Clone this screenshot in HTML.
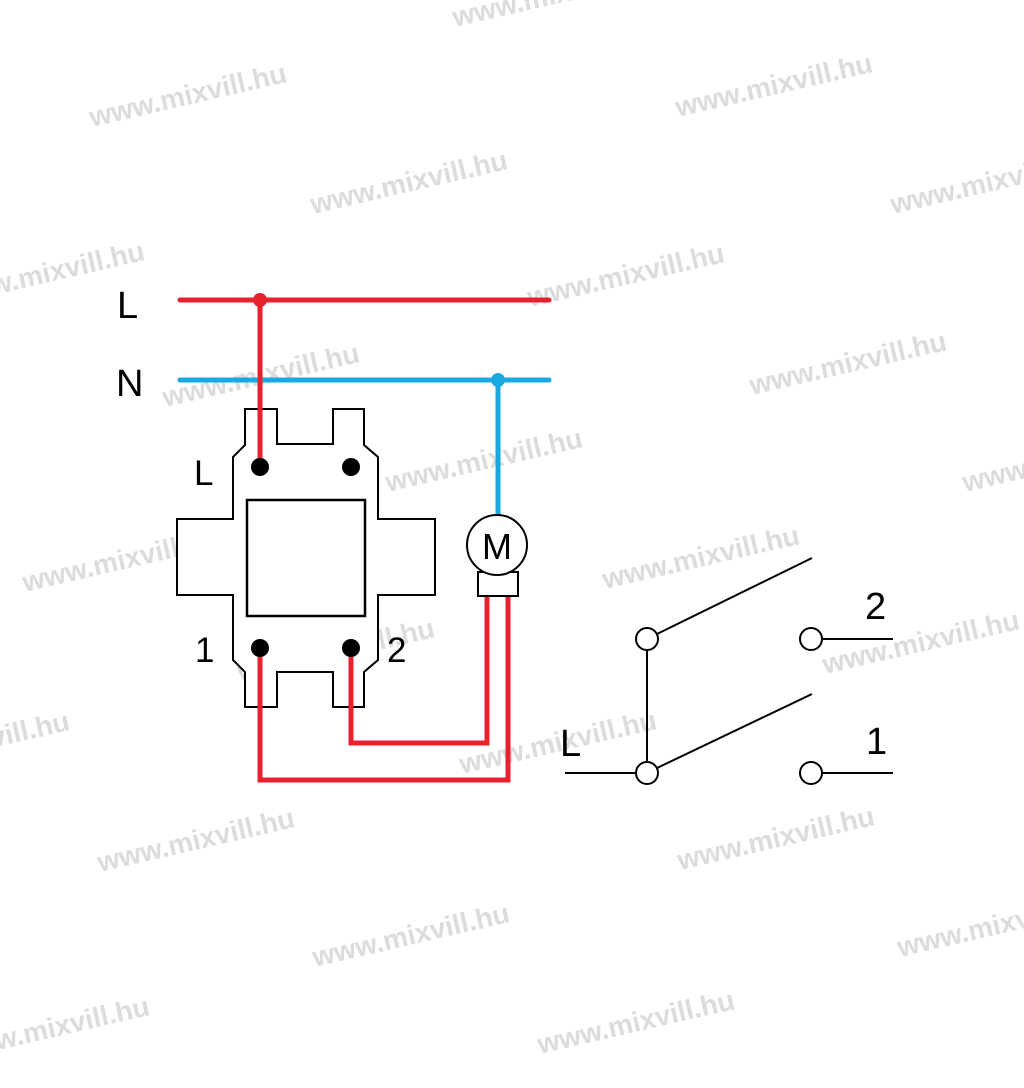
<!DOCTYPE html>
<html><head><style>html,body{margin:0;padding:0;background:#fff;}svg{display:block}</style></head>
<body>
<svg width="1024" height="1088" viewBox="0 0 1024 1088" xmlns="http://www.w3.org/2000/svg">
<g font-family="Liberation Sans, sans-serif" font-weight="bold" font-size="28" fill="#dcdcdc">
<text transform="translate(92,127) rotate(-13)">www.mixvill.hu</text>
<text transform="translate(678,117) rotate(-13)">www.mixvill.hu</text>
<text transform="translate(313,214) rotate(-13)">www.mixvill.hu</text>
<text transform="translate(893,214) rotate(-13)">www.mixvill.hu</text>
<text transform="translate(-50,305) rotate(-13)">www.mixvill.hu</text>
<text transform="translate(530,307) rotate(-13)">www.mixvill.hu</text>
<text transform="translate(165,407) rotate(-13)">www.mixvill.hu</text>
<text transform="translate(752,395) rotate(-13)">www.mixvill.hu</text>
<text transform="translate(388,492) rotate(-13)">www.mixvill.hu</text>
<text transform="translate(965,492) rotate(-13)">www.mixvill.hu</text>
<text transform="translate(25,592) rotate(-13)">www.mixvill.hu</text>
<text transform="translate(605,589) rotate(-13)">www.mixvill.hu</text>
<text transform="translate(240,682) rotate(-13)">www.mixvill.hu</text>
<text transform="translate(825,674) rotate(-13)">www.mixvill.hu</text>
<text transform="translate(-125,775) rotate(-13)">www.mixvill.hu</text>
<text transform="translate(462,774) rotate(-13)">www.mixvill.hu</text>
<text transform="translate(100,872) rotate(-13)">www.mixvill.hu</text>
<text transform="translate(680,870) rotate(-13)">www.mixvill.hu</text>
<text transform="translate(315,967) rotate(-13)">www.mixvill.hu</text>
<text transform="translate(900,957) rotate(-13)">www.mixvill.hu</text>
<text transform="translate(-45,1060) rotate(-13)">www.mixvill.hu</text>
<text transform="translate(540,1054) rotate(-13)">www.mixvill.hu</text>
<text transform="translate(455,27) rotate(-13)">www.mixvill.hu</text>
</g>
<g font-family="Liberation Sans, sans-serif" font-size="38" fill="#000">
<text x="117" y="318">L</text>
<text x="116" y="396">N</text>
<text x="194" y="485" font-size="35">L</text>
<text x="195" y="662" font-size="35">1</text>
<text x="387" y="662" font-size="35">2</text>
<text x="560" y="756">L</text>
<text x="865" y="619">2</text>
<text x="866" y="754">1</text>
</g>
<path d="M245,409 H277 V444 H333 V409 H364 V445 L378,457 V519 H435 V595 H378 V660 L364,672 V707 H333 V672 H277 V707 H245 V672 L233,660 V595 H177 V519 H233 V457 L245,445 Z" fill="#fff" stroke="#000" stroke-width="2"/>
<rect x="247" y="500" width="118" height="116" fill="none" stroke="#000" stroke-width="2.5"/>
<g fill="none" stroke-width="5" stroke-linecap="round">
<line x1="180" y1="300" x2="549" y2="300" stroke="#e8222d"/>
<line x1="180" y1="380" x2="549" y2="380" stroke="#1aa8e0"/>
<line x1="260" y1="300" x2="260" y2="467" stroke="#e8222d"/>
<line x1="498" y1="380" x2="498" y2="515" stroke="#1aa8e0"/>
<polyline points="351,648 351,743 487,743 487,597" stroke="#e8222d" stroke-linecap="butt"/>
<polyline points="260,648 260,780 508,780 508,597" stroke="#e8222d" stroke-linecap="butt"/>
</g>
<circle cx="260" cy="300" r="7" fill="#e8222d"/>
<circle cx="498" cy="380" r="7" fill="#1aa8e0"/>
<g fill="#000">
<circle cx="260" cy="467" r="9"/><circle cx="351" cy="467" r="9"/>
<circle cx="260" cy="648" r="9"/><circle cx="351" cy="648" r="9"/>
</g>
<rect x="478" y="572" width="40" height="24" fill="#fff" stroke="#000" stroke-width="2"/>
<circle cx="497" cy="545" r="30" fill="#fff" stroke="#000" stroke-width="2"/>
<text x="497" y="559" font-family="Liberation Sans, sans-serif" font-size="36" text-anchor="middle">M</text>
<g stroke="#000" stroke-width="2" fill="#fff">
<line x1="565" y1="773" x2="636" y2="773"/>
<line x1="647" y1="650" x2="647" y2="762"/>
<line x1="657" y1="634" x2="812" y2="558"/>
<line x1="657" y1="768" x2="812" y2="694"/>
<line x1="822" y1="639" x2="893" y2="639"/>
<line x1="822" y1="773" x2="893" y2="773"/>
<circle cx="647" cy="639" r="11"/>
<circle cx="647" cy="773" r="11"/>
<circle cx="811" cy="639" r="11"/>
<circle cx="811" cy="773" r="11"/>
</g>
</svg>
</body></html>
